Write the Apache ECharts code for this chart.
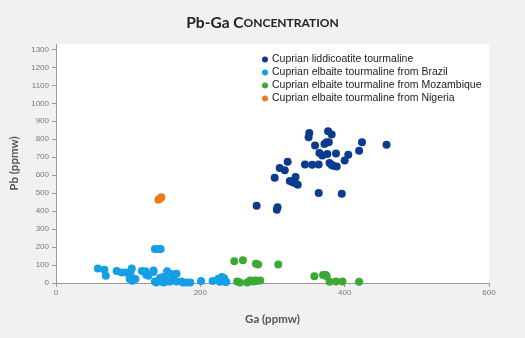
<!DOCTYPE html>
<html>
<head>
<meta charset="utf-8">
<script src="https://cdn.jsdelivr.net/npm/echarts@6/dist/echarts.min.js"></script>
<style>
  html, body { margin: 0; padding: 0; background: #f1f1f3; }
  #chart { width: 525px; height: 338px; }
</style>
</head>
<body>
<div id="chart"></div>
<script>
// [Ga, Pb] in ppmw
const liddicoatite = [
  [351, 835], [350, 811], [377, 844], [382, 826], [359, 765], [375, 783], [378, 783],
  [372, 774], [424, 783], [458, 770], [420, 736], [365, 724], [369, 710], [376, 718],
  [388, 720], [405, 714], [400, 681], [321, 675], [345, 660], [355, 658], [364, 660],
  [379, 668], [384, 653], [389, 649], [382, 657], [310, 640], [317, 627], [303, 586],
  [332, 590], [324, 568], [328, 560], [335, 547], [331, 556], [364, 501], [396, 497],
  [278, 430], [307, 422], [306, 407]
];
const brazil = [
  [58, 81], [67, 74], [69, 41], [84, 67], [91, 59], [97, 59], [105, 81], [103, 56],
  [102, 22], [110, 22], [104, 35], [106, 12], [119, 67], [124, 65], [125, 46], [128, 41],
  [135, 69], [135, 61], [137, 9], [139, 3], [137, 189], [142, 189], [145, 189], [147, 9],
  [144, 28], [149, 3], [148, 33], [151, 24], [154, 65], [153, 9], [158, 9], [160, 50],
  [163, 18], [167, 52], [167, 9], [174, 9], [176, 3], [181, 3], [186, 3], [201, 11],
  [217, 11], [225, 24], [230, 33], [233, 26], [227, 7], [234, 7], [236, 6]
];
const mozambique = [
  [247, 121], [259, 126], [277, 107], [280, 103], [308, 103], [251, 9], [255, 3],
  [265, 3], [269, 14], [273, 9], [276, 14], [278, 11], [283, 14], [358, 37], [370, 45],
  [374, 45], [375, 37], [379, 7], [388, 9], [397, 9], [420, 7]
];
const nigeria = [[142, 463], [144, 470], [146, 477]];

const seriesNames = [
  'Cuprian liddicoatite tourmaline',
  'Cuprian elbaite tourmaline from Brazil',
  'Cuprian elbaite tourmaline from Mozambique',
  'Cuprian elbaite tourmaline from Nigeria'
];
const colors = ['#0b3b8e', '#149fe6', '#3aa935', '#f07b1c'];
const xTicks = [0, 200, 400, 600];
const yTicks = [0, 100, 200, 300, 400, 500, 600, 700, 800, 900, 1000, 1100, 1200, 1300];

const chart = echarts.init(document.getElementById('chart'));

const axisFont = { color: '#555', fontFamily: 'Lato', fontWeight: 'bold', fontSize: 11.5 };

chart.setOption({
  backgroundColor: '#f1f1f3',
  color: colors,
  title: {
    text: '{a|Pb-Ga C}{b|ONCENTRATION}',
    left: 'center',
    top: 10,
    textStyle: {
      rich: {
        a: { fontFamily: 'Lato', fontWeight: 'bold', fontSize: 15.5, color: '#222' },
        b: { fontFamily: 'Lato', fontWeight: 'bold', fontSize: 12, color: '#222' }
      }
    }
  },
  legend: {
    orient: 'vertical',
    left: 257,
    top: 49,
    itemWidth: 6,
    itemHeight: 6,
    itemGap: 2,
    icon: 'circle',
    textStyle: { fontFamily: 'Liberation Sans', fontSize: 10.5, color: '#222', lineHeight: 11, padding: [0, 0, 0, -1] },
    data: seriesNames
  },
  grid: { left: 56, right: 36, top: 44, bottom: 55, show: true, backgroundColor: '#fff', borderWidth: 0 },
  xAxis: {
    type: 'value',
    min: 0, max: 600, interval: 200,
    name: 'Ga (ppmw)', nameLocation: 'middle', nameGap: 30,
    nameTextStyle: axisFont,
    splitLine: { show: false },
    axisLine: { lineStyle: { color: '#999' } },
    axisTick: { show: true, length: 4, lineStyle: { color: '#999' }, customValues: xTicks },
    axisLabel: { color: '#777', fontSize: 8, margin: 6, customValues: xTicks, formatter: v => String(v) }
  },
  yAxis: {
    type: 'value',
    min: 0, max: 1330,
    name: 'Pb (ppmw)', nameLocation: 'middle', nameGap: 35,
    nameTextStyle: axisFont,
    splitLine: { show: false },
    axisLine: { show: true, lineStyle: { color: '#999' } },
    axisTick: { show: true, length: 4, lineStyle: { color: '#999' }, customValues: yTicks },
    axisLabel: { color: '#777', fontSize: 8, margin: 7, customValues: yTicks, formatter: v => String(v) }
  },
  series: [liddicoatite, brazil, mozambique, nigeria].map((d, i) => ({
    name: seriesNames[i],
    type: 'scatter',
    symbolSize: 8,
    itemStyle: { opacity: 1 },
    data: d
  }))
});
</script>
</body>
</html>
